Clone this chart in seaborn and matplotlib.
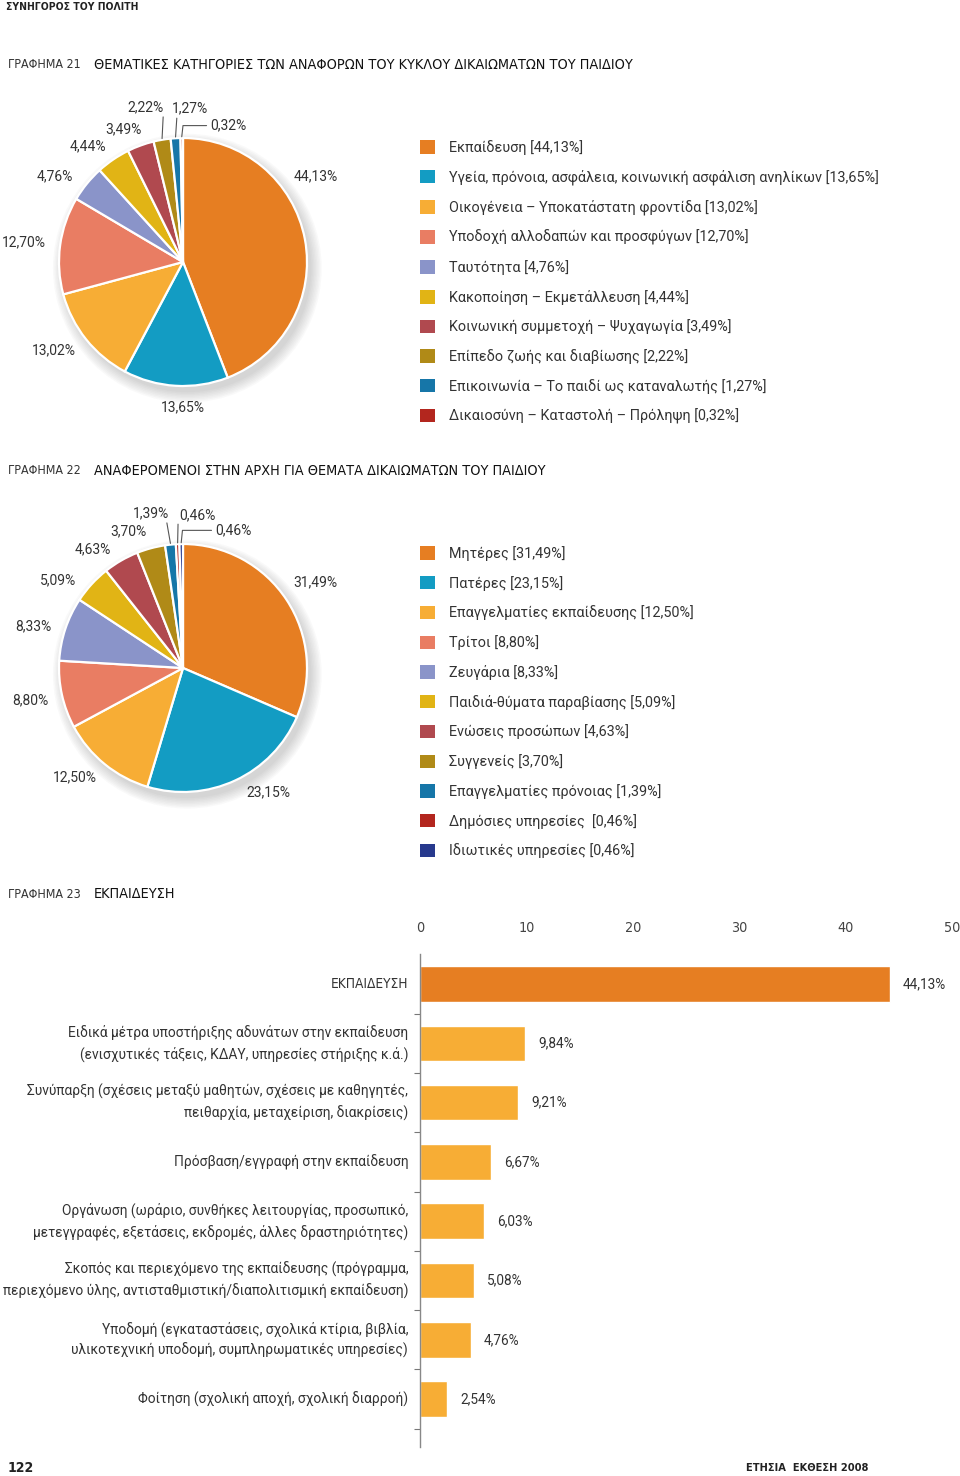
import numpy as np
import pandas as pd
import matplotlib
matplotlib.use('Agg')
import matplotlib.pyplot as plt
import matplotlib.patches as mpatches
from matplotlib import font_manager as fm
import seaborn as sns

# ---- data ----
pie1_names = ["Εκπαίδευση",
              "Υγεία, πρόνοια, ασφάλεια, κοινωνική ασφάλιση ανηλίκων",
              "Οικογένεια – Υποκατάστατη φροντίδα",
              "Υποδοχή αλλοδαπών και προσφύγων",
              "Ταυτότητα",
              "Κακοποίηση – Εκμετάλλευση",
              "Κοινωνική συμμετοχή – Ψυχαγωγία",
              "Επίπεδο ζωής και διαβίωσης",
              "Επικοινωνία – Το παιδί ως καταναλωτής",
              "Δικαιοσύνη – Καταστολή – Πρόληψη"]
pie1_values = [44.13, 13.65, 13.02, 12.70, 4.76, 4.44, 3.49, 2.22, 1.27, 0.32]

pie2_names = ["Μητέρες", "Πατέρες", "Επαγγελματίες εκπαίδευσης", "Τρίτοι",
              "Ζευγάρια", "Παιδιά-θύματα παραβίασης", "Ενώσεις προσώπων",
              "Συγγενείς", "Επαγγελματίες πρόνοιας", "Δημόσιες υπηρεσίες ",
              "Ιδιωτικές υπηρεσίες"]
pie2_values = [31.49, 23.15, 12.50, 8.80, 8.33, 5.09, 4.63, 3.70, 1.39, 0.46, 0.46]

bar_labels = ["ΕΚΠΑΙΔΕΥΣΗ",
              "Ειδικά μέτρα υποστήριξης αδυνάτων στην εκπαίδευση\n(ενισχυτικές τάξεις, ΚΔΑΥ, υπηρεσίες στήριξης κ.ά.)",
              "Συνύπαρξη (σχέσεις μεταξύ μαθητών, σχέσεις με καθηγητές,\nπειθαρχία, μεταχείριση, διακρίσεις)",
              "Πρόσβαση/εγγραφή στην εκπαίδευση",
              "Οργάνωση (ωράριο, συνθήκες λειτουργίας, προσωπικό,\nμετεγγραφές, εξετάσεις, εκδρομές, άλλες δραστηριότητες)",
              "Σκοπός και περιεχόμενο της εκπαίδευσης (πρόγραμμα,\nπεριεχόμενο ύλης, αντισταθμιστική/διαπολιτισμική εκπαίδευση)",
              "Υποδομή (εγκαταστάσεις, σχολικά κτίρια, βιβλία,\nυλικοτεχνική υποδομή, συμπληρωματικές υπηρεσίες)",
              "Φοίτηση (σχολική αποχή, σχολική διαρροή)"]
bar_values = [44.13, 9.84, 9.21, 6.67, 6.03, 5.08, 4.76, 2.54]
bar_ticks = [0, 10, 20, 30, 40, 50]

# ---- styles ----
ORANGE = '#E67E22'
TEAL = '#139CC3'
LORANGE = '#F7AD35'
SALMON = '#E97D63'
LAVENDER = '#8A94C9'
GOLD = '#E1B415'
ROSE = '#B0494F'
OLIVE = '#B08A17'
BLUE = '#1676A8'
RED = '#B3261E'
NAVY = '#27398D'
pie1_colors = [ORANGE, TEAL, LORANGE, SALMON, LAVENDER, GOLD, ROSE, OLIVE, BLUE, RED]
pie2_colors = [ORANGE, TEAL, LORANGE, SALMON, LAVENDER, GOLD, ROSE, OLIVE, BLUE, RED, NAVY]
bar_colors = [ORANGE] + [LORANGE] * 7
TXT = '#333333'

sns.set_theme(style='white')
plt.rcParams['font.family'] = ['Roboto', 'DejaVu Sans']

# condensed face for headings (DejaVu Sans Condensed if present)
has_cond = any(f.name == 'DejaVu Sans' and f.stretch == 'condensed'
               for f in fm.fontManager.ttflist)
if has_cond:
    COND = dict(family='DejaVu Sans', stretch='condensed')
    cs = 1.0
else:
    COND = dict(family='Roboto')
    cs = 0.88

W, H = 960, 1476
fig = plt.figure(figsize=(W / 100, H / 100), dpi=100)


def fx(x):
    return x / W


def fy(y):
    return 1 - y / H


def pct(v):
    return f"{v:.2f}".replace('.', ',') + '%'


def draw_pie(cx, cy, R, values, colors, label_pos, leaders, elbow):
    k = 1.45
    ax = fig.add_axes([fx(cx - k * R), fy(cy + k * R), 2 * k * R / W, 2 * k * R / H])
    # soft shadow
    for i in range(8):
        ax.add_patch(mpatches.Circle((0.035, -0.05), 1.0 + 0.012 * i,
                                     color='#555555', alpha=0.03, lw=0, zorder=0))
    wedges, _ = ax.pie(values, colors=colors, startangle=90, counterclock=False,
                       radius=1.0, wedgeprops=dict(edgecolor='white', linewidth=1.6))
    for w in wedges:
        w.set_zorder(2)
    ax.set_xlim(-k, k)
    ax.set_ylim(-k, k)
    ax.axis('off')
    for i, (v, (lx, ly)) in enumerate(zip(values, label_pos)):
        ha = 'left' if i == elbow[0] else 'center'
        ax.text(lx, ly, pct(v), ha=ha, va='center', fontsize=10, color=TXT)
    cum = np.cumsum([0] + values) / sum(values)

    def wedge_pt(i):
        ang = np.deg2rad(90 - 360 * (cum[i] + cum[i + 1]) / 2)
        return np.cos(ang), np.sin(ang)

    for i, (ex, ey) in leaders:
        sx, sy = wedge_pt(i)
        ax.plot([sx, ex], [sy * 1.01, ey], color='#555555', lw=0.8)
    i, (tx, ty) = elbow
    sx, sy = wedge_pt(i)
    ax.plot([sx, sx + 0.01, tx - 0.03], [sy * 1.01, ty, ty], color='#555555', lw=0.8)
    return ax


def draw_legend(names_, values, colors, x, y, rows_pitch):
    handles = [mpatches.Patch(facecolor=c, edgecolor='none') for c in colors]
    labels = [f"{n} [{pct(v)}]" for n, v in zip(names_, values)]
    fs = 10.4
    fpx = fs * 100 / 72
    fig.legend(handles, labels, loc='upper left', bbox_to_anchor=(fx(x), fy(y)),
               frameon=False, fontsize=fs, handlelength=1.05, handleheight=1.05,
               handletextpad=0.95, borderpad=0, borderaxespad=0,
               labelspacing=(rows_pitch - 1.026 * fpx) / fpx,
               labelcolor=TXT)


# ---- page header / titles ----
fig.text(fx(6), fy(7), "ΣΥΝΗΓΟΡΟΣ ΤΟΥ ΠΟΛΙΤΗ", **COND, weight='bold',
         fontsize=7.5 * cs, color='#222222', va='center', ha='left')
for yy, num, title in [(65, "ΓΡΑΦΗΜΑ 21", "ΘΕΜΑΤΙΚΕΣ ΚΑΤΗΓΟΡΙΕΣ ΤΩΝ ΑΝΑΦΟΡΩΝ ΤΟΥ ΚΥΚΛΟΥ ΔΙΚΑΙΩΜΑΤΩΝ ΤΟΥ ΠΑΙΔΙΟΥ"),
                       (471, "ΓΡΑΦΗΜΑ 22", "ΑΝΑΦΕΡΟΜΕΝΟΙ ΣΤΗΝ ΑΡΧΗ ΓΙΑ ΘΕΜΑΤΑ ΔΙΚΑΙΩΜΑΤΩΝ ΤΟΥ ΠΑΙΔΙΟΥ"),
                       (894, "ΓΡΑΦΗΜΑ 23", "ΕΚΠΑΙΔΕΥΣΗ")]:
    fig.text(fx(8), fy(yy), num, **COND, fontsize=8.9 * cs, color='#333333',
             va='center', ha='left')
    fig.text(fx(94), fy(yy), title, **COND, fontsize=10.4 * cs, color='#111111',
             va='center', ha='left')
fig.text(fx(8), fy(1468), "122", **COND, weight='bold', fontsize=10.1 * cs,
         color='#222222', va='center', ha='left')
fig.text(fx(868), fy(1468), "ΕΤΗΣΙΑ  ΕΚΘΕΣΗ 2008", **COND, weight='bold',
         fontsize=7.9 * cs, color='#222222', va='center', ha='right')

# ---- chart 21 ----
pos1 = [(1.07, 0.69), (0.0, -1.17), (-1.04, -0.71), (-1.28, 0.16), (-1.03, 0.69),
        (-0.77, 0.93), (-0.48, 1.07), (-0.30, 1.25), (0.06, 1.24), (0.22, 1.10)]
draw_pie(183, 262, 124, pie1_values, pie1_colors, pos1,
         leaders=[(7, (-0.16, 1.17)), (8, (-0.05, 1.16))], elbow=(9, (0.22, 1.10)))
draw_legend(pie1_names, pie1_values, pie1_colors, 420, 140, 29.5)

# ---- chart 22 ----
pos2 = [(1.07, 0.69), (0.69, -1.0), (-0.87, -0.88), (-1.23, -0.26), (-1.21, 0.34),
        (-1.01, 0.71), (-0.73, 0.96), (-0.44, 1.10), (-0.26, 1.25), (0.12, 1.23),
        (0.26, 1.11)]
draw_pie(183, 668, 124, pie2_values, pie2_colors, pos2,
         leaders=[(8, (-0.13, 1.17)), (9, (-0.04, 1.16))], elbow=(10, (0.26, 1.11)))
draw_legend(pie2_names, pie2_values, pie2_colors, 420, 546, 29.6)

# ---- chart 23 ----
pitch = 59.3
top = 984 - pitch / 2
ymax = 7.81
axb = fig.add_axes([fx(420), fy(top + (ymax + 0.5) * pitch), (952 - 420) / W,
                    (ymax + 0.5) * pitch / H])
df = pd.DataFrame({'cat': bar_labels, 'val': bar_values})
sns.barplot(data=df, x='val', y='cat', hue='cat', palette=bar_colors, legend=False,
            orient='h', width=0.6, saturation=1, ax=axb)
for c in axb.containers:
    axb.bar_label(c, labels=[pct(b.get_width()) for b in c], padding=9.5,
                  fontsize=9.8, color=TXT)
axb.set_xlim(0, 50)
axb.set_ylim(ymax, -0.5)
axb.set_xticks(bar_ticks)
axb.set_xlabel('')
axb.set_ylabel('')
axb.xaxis.tick_top()
axb.tick_params(axis='x', length=0, pad=14, labelsize=10.3 * cs, labelcolor='#444444')
for t in axb.get_xticklabels():
    t.set_fontfamily(COND['family'])
    if has_cond:
        t.set_fontstretch('condensed')
axb.set_yticks(range(len(bar_labels)))
axb.set_yticks(np.arange(len(bar_labels)) + 0.5, minor=True)
axb.tick_params(axis='y', which='major', length=0, pad=8.5, labelsize=9.9,
                labelcolor=TXT)
axb.tick_params(axis='y', which='minor', left=True, length=4, width=0.8,
                color='#777777', direction='out')
for i, t in enumerate(axb.get_yticklabels()):
    t.set_linespacing(1.55)
    t.set_verticalalignment('center')
    if i == 0:
        t.set_fontfamily(COND['family'])
        if has_cond:
            t.set_fontstretch('condensed')
        t.set_fontsize(9.8 if has_cond else 8.9)
for s in ['top', 'right', 'bottom']:
    axb.spines[s].set_visible(False)
axb.spines['left'].set_color('#888888')
axb.spines['left'].set_linewidth(1)
axb.grid(False)

fig.savefig('out.png', dpi=100)
